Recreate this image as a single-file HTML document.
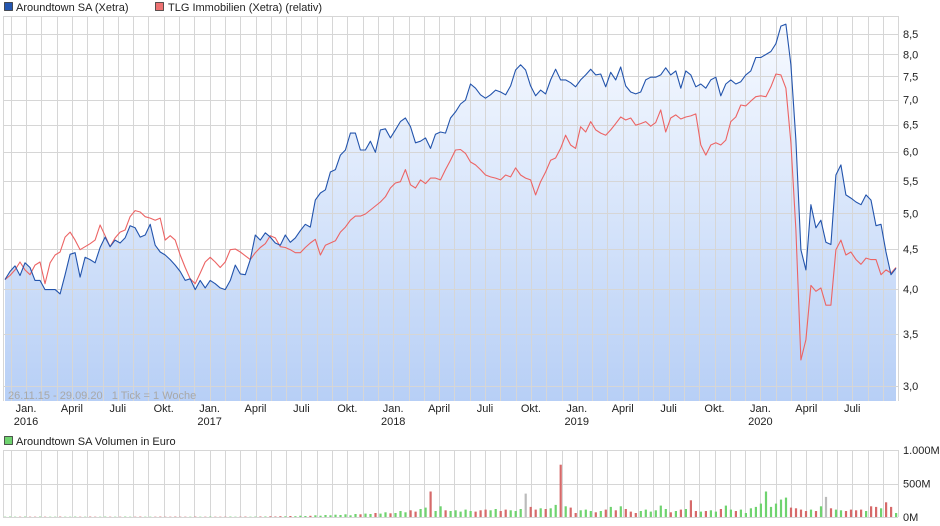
<!DOCTYPE html>
<html><head><meta charset="utf-8"><style>
body{margin:0;background:#fff;width:940px;height:526px;overflow:hidden}
svg{display:block;font-family:"Liberation Sans",sans-serif}
</style></head><body>
<svg id="c" width="940" height="526"></svg>
<script>
const blue=[4.11,4.21,4.28,4.16,4.32,4.26,4.10,4.10,3.99,3.99,3.99,3.94,4.17,4.43,4.45,4.14,4.39,4.36,4.32,4.52,4.66,4.53,4.62,4.58,4.65,4.82,4.79,4.66,4.69,4.84,4.55,4.46,4.42,4.36,4.29,4.21,4.10,4.12,3.99,4.10,4.01,4.10,4.06,4.01,3.99,4.10,4.29,4.18,4.17,4.36,4.69,4.62,4.72,4.66,4.58,4.55,4.69,4.59,4.65,4.75,4.84,4.80,5.20,5.31,5.36,5.65,5.69,5.94,6.03,6.34,6.34,6.03,6.03,6.19,5.99,6.40,6.42,6.25,6.40,6.56,6.63,6.46,6.16,6.19,6.25,6.06,6.32,6.36,6.34,6.63,6.75,6.91,6.99,7.33,7.24,7.10,7.03,7.10,7.20,7.16,7.10,7.29,7.64,7.76,7.64,7.29,7.08,7.20,7.12,7.42,7.66,7.42,7.42,7.36,7.27,7.42,7.53,7.66,7.53,7.55,7.27,7.59,7.42,7.71,7.29,7.16,7.12,7.16,7.42,7.48,7.48,7.53,7.69,7.53,7.62,7.24,7.62,7.53,7.27,7.33,7.24,7.42,7.48,7.08,7.33,7.42,7.33,7.38,7.53,7.62,7.93,7.93,8.00,8.07,8.26,8.70,8.75,7.76,6.21,4.49,4.23,5.13,4.79,4.90,4.59,4.56,5.60,5.77,5.28,5.23,5.17,5.13,5.28,5.20,4.82,4.84,4.46,4.17,4.25];
const red=[4.11,4.16,4.23,4.33,4.23,4.17,4.29,4.33,4.06,4.32,4.42,4.46,4.66,4.73,4.62,4.49,4.53,4.57,4.62,4.83,4.68,4.53,4.65,4.73,4.76,4.95,5.04,5.02,4.95,4.93,4.90,4.93,4.62,4.68,4.62,4.42,4.26,4.12,4.06,4.19,4.33,4.39,4.33,4.26,4.33,4.49,4.50,4.46,4.41,4.36,4.45,4.52,4.57,4.68,4.65,4.53,4.52,4.49,4.45,4.45,4.52,4.58,4.63,4.42,4.55,4.58,4.61,4.73,4.80,4.90,4.96,4.96,4.99,5.05,5.11,5.17,5.25,5.39,5.47,5.49,5.69,5.44,5.39,5.52,5.46,5.55,5.55,5.52,5.69,5.85,6.03,6.04,5.97,5.82,5.77,5.69,5.60,5.57,5.55,5.52,5.60,5.57,5.72,5.60,5.55,5.52,5.28,5.49,5.65,5.85,5.89,6.06,6.30,6.12,6.06,6.46,6.36,6.56,6.40,6.34,6.30,6.40,6.52,6.65,6.59,6.63,6.49,6.52,6.56,6.47,6.54,6.79,6.36,6.63,6.69,6.61,6.65,6.67,6.71,6.12,5.94,6.12,6.16,6.12,6.21,6.56,6.65,6.89,6.87,6.97,7.06,7.08,7.06,7.27,7.55,7.53,7.24,6.16,4.76,3.24,3.44,4.04,3.97,4.01,3.81,3.81,4.49,4.62,4.42,4.46,4.36,4.30,4.38,4.36,4.36,4.17,4.23,4.19,4.26];
const volume=[5,6,5,4,6,5,5,6,5,4,5,6,5,5,6,4,5,6,5,5,6,5,4,5,6,5,5,6,5,4,5,6,5,5,6,5,4,5,6,5,5,6,5,4,5,6,5,5,6,5,6,7,8,10,8,12,10,15,12,20,15,18,25,20,30,25,35,30,40,25,45,40,50,45,60,50,70,55,60,90,70,100,80,120,140,380,90,160,100,90,100,80,110,90,80,100,110,100,120,90,110,100,90,120,350,150,110,130,120,130,180,780,160,140,60,100,110,90,70,90,110,150,100,160,120,80,60,90,110,80,100,170,120,70,90,110,120,250,90,80,90,100,80,120,170,110,90,110,60,130,150,200,380,150,200,260,290,140,130,110,90,110,90,160,300,130,110,100,90,110,100,110,90,160,150,130,220,150,60];
const yTicks=[3.0,3.5,4.0,4.5,5.0,5.5,6.0,6.5,7.0,7.5,8.0,8.5];
const yTickLabels=["3,0","3,5","4,0","4,5","5,0","5,5","6,0","6,5","7,0","7,5","8,0","8,5"];
const monthLabels=["Jan.","April","Juli","Okt.","Jan.","April","Juli","Okt.","Jan.","April","Juli","Okt.","Jan.","April","Juli","Okt.","Jan.","April","Juli"];
const yearLabels=["2016","","","","2017","","","","2018","","","","2019","","","","2020","",""];
const volTicks=[0,500,1000];
const volTickLabels=["0M","500M","1.000M"];

const NS="http://www.w3.org/2000/svg";
const svg=document.getElementById('c');
function mk(t,a,p){const e=document.createElementNS(NS,t);for(const k in a)e.setAttribute(k,a[k]);(p||svg).appendChild(e);return e;}
const PL=3,PR=898,PT=16,PB=401,VT=450,VB=517;
const X0=5,X1=896;
function xs(i,n){return X0+i*(X1-X0)/(n-1);}
function ys(v){return 386-(Math.log(v)-Math.log(3))*338;}
function vy(v){return VB-v*(VB-VT)/1000;}

const defs=mk('defs',{});
const g=mk('linearGradient',{id:'gf',x1:0,y1:0,x2:0,y2:1},defs);
mk('stop',{offset:'0','stop-color':'#f7faff'},g);
mk('stop',{offset:'1','stop-color':'#b7cff6'},g);

// legend
const l1=mk('rect',{x:4.5,y:2.5,width:8,height:8,fill:'#2456b0',stroke:'#333','stroke-width':0.8});

const t1=mk('text',{x:16,y:11,'font-size':11,fill:'#222'});t1.textContent='Aroundtown SA (Xetra)';

const l2=mk('rect',{x:155.5,y:2.5,width:8,height:8,fill:'#ee7272',stroke:'#333','stroke-width':0.8});

const t2=mk('text',{x:168,y:11,'font-size':11,fill:'#222'});t2.textContent='TLG Immobilien (Xetra) (relativ)';


// area fill
const n=blue.length;
let d='M'+xs(0,n)+','+PB;
blue.forEach((v,i)=>{d+=' L'+xs(i,n).toFixed(1)+','+ys(v).toFixed(1);});
d+=' L'+xs(n-1,n)+','+PB+' Z';
const area=mk('path',{d:d,fill:'url(#gf)'});


// grid
const grid=mk('g',{stroke:'#d6d6d6','stroke-width':1,fill:'none'});

mk('line',{x1:PL,y1:PT+0.5,x2:PR,y2:PT+0.5},grid);
yTicks.forEach(v=>{const y=Math.round(ys(v))+0.5;mk('line',{x1:PL,y1:y,x2:PR,y2:y},grid);});
for(let k=-1;k<=57;k++){const x=Math.round(26+15.3*k)+0.5;if(x<PL||x>PR)continue;
 mk('line',{x1:x,y1:PT,x2:x,y2:PB},grid);mk('line',{x1:x,y1:VT,x2:x,y2:VB},grid);}
mk('line',{x1:PR+0.5,y1:PT,x2:PR+0.5,y2:PB},grid);
mk('line',{x1:PL+0.5,y1:PT,x2:PL+0.5,y2:PB},grid);
mk('line',{x1:PR+0.5,y1:VT,x2:PR+0.5,y2:VB},grid);
mk('line',{x1:PL+0.5,y1:VT,x2:PL+0.5,y2:VB},grid);
volTicks.forEach(v=>{const y=Math.round(vy(v))+0.5;mk('line',{x1:PL,y1:y,x2:PR,y2:y},grid);});

// y labels
yTicks.forEach((v,i)=>{const t=mk('text',{x:903,y:ys(v)+4,'font-size':11,fill:'#222'});t.textContent=yTickLabels[i];
 });

// lines
function line(arr,col,name){let p='';arr.forEach((v,i)=>{p+=(i?' L':'M')+xs(i,arr.length).toFixed(1)+','+ys(v).toFixed(1);});
 const e=mk('path',{d:p,fill:'none',stroke:col,'stroke-width':1.1,'stroke-linejoin':'round'});
 }
line(red,'#ec6464','tlg-line');
line(blue,'#2354ac','aroundtown-line');

// footer
const ft=mk('text',{x:8,y:399,'font-size':11,fill:'#a8a8a8'});ft.textContent='26.11.15 - 29.09.20   1 Tick = 1 Woche';

ft.setAttribute('xml:space','preserve');ft.style.whiteSpace='pre';

// x labels
monthLabels.forEach((m,i)=>{const x=26+15.3*3*i;
 const t=mk('text',{x:x,y:412,'font-size':11,fill:'#222','text-anchor':'middle'});t.textContent=m;
 
 if(yearLabels[i]){const y=mk('text',{x:x,y:425,'font-size':11,fill:'#222','text-anchor':'middle'});y.textContent=yearLabels[i];
 }});

// volume legend
const l3=mk('rect',{x:4.5,y:436.5,width:8,height:8,fill:'#6fd36f',stroke:'#333','stroke-width':0.8});

const t3=mk('text',{x:16,y:445,'font-size':11,fill:'#222'});t3.textContent='Aroundtown SA Volumen in Euro';


// volume bars
volume.forEach((v,i)=>{const x=xs(i,volume.length);const up=i===0||blue[i]>=blue[i-1];
 const col=v>=300&&v<=360?'#bbbbbb':(up?'#6fd36f':'#d66a6a');
 const b=mk('rect',{x:(x-1).toFixed(1),y:vy(v).toFixed(1),width:2.2,height:(VB-vy(v)).toFixed(1),fill:col});
 });
volTicks.forEach((v,i)=>{const t=mk('text',{x:903,y:vy(v)+(i===0?4:4),'font-size':11,fill:'#222'});t.textContent=volTickLabels[i];
 });
</script>
</body></html>
